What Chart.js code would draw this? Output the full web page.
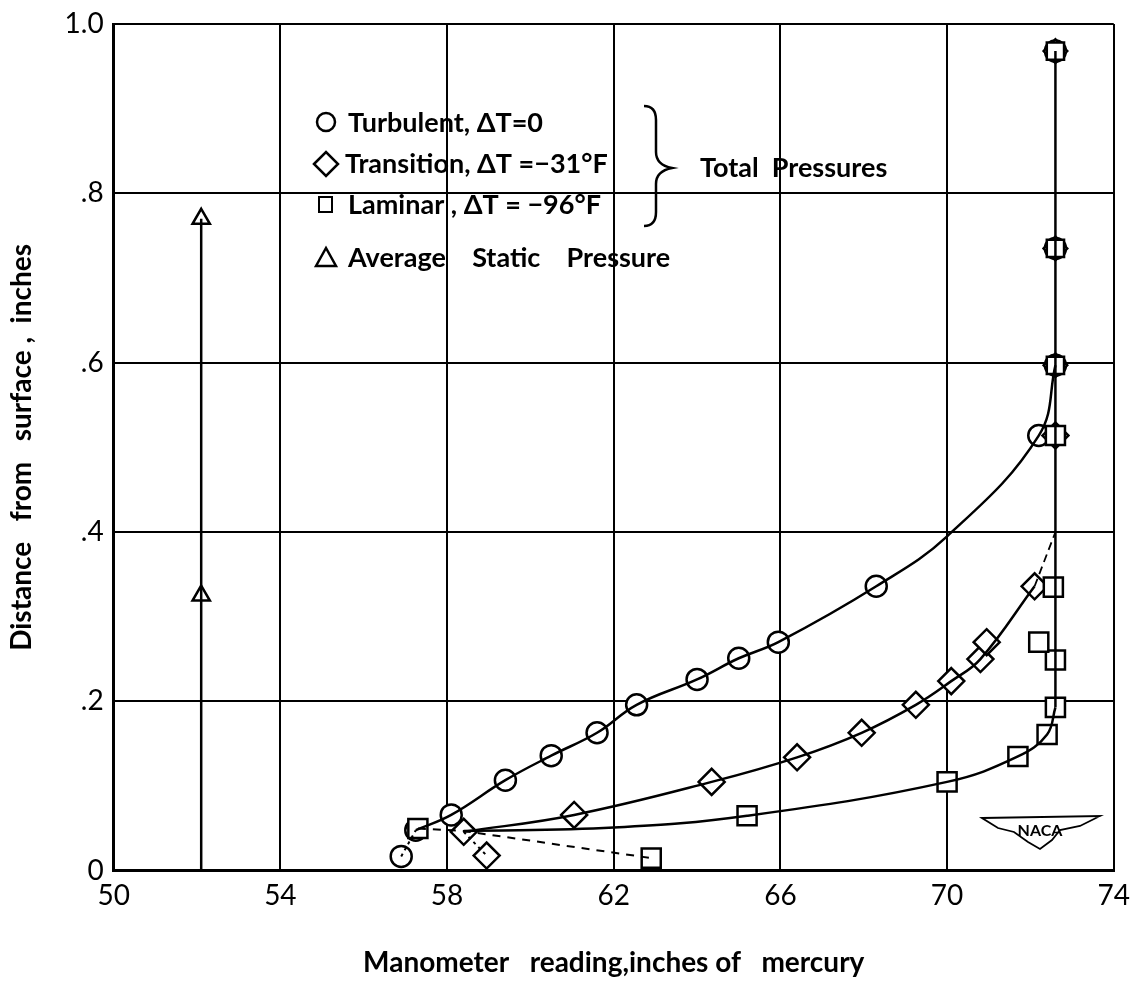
<!DOCTYPE html>
<html>
<head>
<meta charset="utf-8">
<script src="https://cdn.jsdelivr.net/npm/chart.js@4/dist/chart.umd.min.js"></script>
<style>
  html, body { margin: 0; padding: 0; background: #fff; }
  #chart { display: block; }
</style>
</head>
<body>
<canvas id="chart" width="1138" height="983"></canvas>
<script>
// --- DATA ---
const xTicks = [50, 54, 58, 62, 66, 70, 74];
const yTicks = [0, 0.2, 0.4, 0.6, 0.8, 1.0];

// Turbulent, dT = 0 (circles)
const turbX = [56.9, 57.25, 58.1, 59.4, 60.5, 61.6, 62.55, 64.0, 65.0, 65.95, 68.3, 72.2, 72.6, 72.6, 72.6];
const turbY = [0.017, 0.048, 0.066, 0.107, 0.136, 0.163, 0.196, 0.226, 0.251, 0.270, 0.336, 0.514, 0.597, 0.735, 0.968];

// Transition, dT = -31 F (diamonds)
const transX = [58.4, 58.95, 61.05, 64.35, 66.4, 67.95, 69.25, 70.1, 70.8, 70.95, 72.1, 72.6, 72.6, 72.6, 72.6];
const transY = [0.046, 0.018, 0.066, 0.105, 0.134, 0.163, 0.196, 0.224, 0.250, 0.270, 0.336, 0.514, 0.597, 0.735, 0.968];

// Laminar, dT = -96 F (squares)
const lamX = [57.3, 62.9, 65.2, 70.0, 71.7, 72.4, 72.6, 72.6, 72.2, 72.55, 72.6, 72.6, 72.6, 72.6];
const lamY = [0.050, 0.015, 0.065, 0.105, 0.135, 0.161, 0.193, 0.249, 0.270, 0.335, 0.514, 0.597, 0.735, 0.968];

// Average static pressure (triangles)
const statX = [52.1, 52.1];
const statY = [0.770, 0.325];

// Faired curves drawn through the points
const turbCurveX = [57.25, 58.1, 59.4, 60.5, 61.6, 62.55, 64.0, 65.0, 65.95, 68.3, 70.0, 72.2, 72.6];
const turbCurveY = [0.048, 0.066, 0.107, 0.136, 0.163, 0.196, 0.226, 0.251, 0.270, 0.336, 0.395, 0.514, 0.597];
const transCurveX = [58.4, 61.05, 64.35, 66.4, 67.95, 69.25, 70.1, 70.8, 72.1];
const transCurveY = [0.046, 0.066, 0.105, 0.134, 0.163, 0.196, 0.224, 0.250, 0.336];
const transDashX = [72.1, 72.6];
const transDashY = [0.336, 0.400];
const lamCurveX = [58.4, 62.0, 65.2, 70.0, 71.7, 72.4, 72.6];
const lamCurveY = [0.047, 0.051, 0.065, 0.105, 0.135, 0.161, 0.193];
const wallX = [72.6, 72.6];
const wallY = [0.193, 0.968];
const turbTailX = [56.9, 57.25];
const turbTailY = [0.017, 0.048];
const transTailX = [58.4, 58.95];
const transTailY = [0.046, 0.018];
const lamTailX = [57.3, 58.4, 62.9];
const lamTailY = [0.050, 0.047, 0.015];
const statLineX = [52.1, 52.1];
const statLineY = [0, 0.770];

const pts = (xs, ys) => xs.map((x, i) => ({ x: x, y: ys[i] }));

const lineSet = (xs, ys, opts) => Object.assign({
    data: pts(xs, ys),
    showLine: true,
    pointRadius: 0,
    borderColor: '#000',
    borderWidth: 2.5,
    tension: 0,
    fill: false
}, opts || {});

// where several symbols sit on one spot (top of the wall line) the
// square and diamond only peek out from behind the circle
const stacked = (ctx) => {
    const p = ctx.raw;
    return p && p.x === 72.6 && p.y > 0.55;
};

const markerSet = (xs, ys, style, radius, small) => ({
    data: pts(xs, ys),
    showLine: false,
    pointStyle: style,
    pointRadius: small ? (ctx => stacked(ctx) ? small : radius) : radius,
    pointBorderWidth: 2.5,
    pointBorderColor: '#000',
    pointBackgroundColor: '#fff'
});

const FONT = 'Lato, "DejaVu Sans", sans-serif';

// --- Legend, brace and NACA mark ---
const decorPlugin = {
    id: 'decor',
    afterDatasetsDraw(chart) {
        const ctx = chart.ctx;
        ctx.save();
        ctx.strokeStyle = '#000';
        ctx.fillStyle = '#000';
        ctx.lineWidth = 2.5;

        const mx = 326;
        // circle
        ctx.beginPath(); ctx.arc(mx, 122, 9, 0, Math.PI * 2); ctx.stroke();
        // diamond
        ctx.beginPath();
        ctx.moveTo(mx - 12, 164); ctx.lineTo(mx, 152); ctx.lineTo(mx + 12, 164); ctx.lineTo(mx, 176); ctx.closePath();
        ctx.stroke();
        // square
        ctx.lineWidth = 2;
        ctx.strokeRect(mx - 7, 197, 13, 15);
        // triangle
        ctx.lineWidth = 2.5;
        ctx.beginPath();
        ctx.moveTo(mx - 10, 266); ctx.lineTo(mx, 248); ctx.lineTo(mx + 10, 266); ctx.closePath();
        ctx.stroke();

        ctx.font = 'bold 27px ' + FONT;
        ctx.textBaseline = 'middle';
        ctx.textAlign = 'left';
        ctx.fillText('Turbulent, \u0394T=0', 348, 123);
        ctx.fillText('Transition, \u0394T =\u221231\u00B0F', 345, 164);
        ctx.fillText('Laminar , \u0394T = \u221296\u00B0F', 348, 205);
        ctx.fillText('Average    Static    Pressure', 348, 258);
        ctx.fillText('Total  Pressures', 700, 168);

        // brace
        ctx.lineWidth = 2.5;
        ctx.beginPath();
        ctx.moveTo(644, 106);
        ctx.quadraticCurveTo(656, 106, 656, 120);
        ctx.lineTo(656, 152);
        ctx.quadraticCurveTo(656, 165, 672, 168);
        ctx.quadraticCurveTo(656, 171, 656, 184);
        ctx.lineTo(656, 212);
        ctx.quadraticCurveTo(656, 226, 644, 226);
        ctx.stroke();

        // NACA wing mark
        ctx.lineWidth = 1.8;
        ctx.beginPath();
        ctx.moveTo(982, 818);
        ctx.lineTo(1100, 816);
        ctx.lineTo(1080, 826);
        ctx.lineTo(1060, 830);
        ctx.lineTo(1052, 840);
        ctx.lineTo(1040, 849);
        ctx.lineTo(1028, 842);
        ctx.lineTo(1014, 832);
        ctx.lineTo(998, 828);
        ctx.closePath();
        ctx.stroke();
        ctx.font = 'bold 16px ' + FONT;
        ctx.textAlign = 'center';
        ctx.fillText('NACA', 1040, 831);
        ctx.restore();
    }
};

new Chart(document.getElementById('chart'), {
    type: 'scatter',
    data: {
        datasets: [
            lineSet(statLineX, statLineY),
            lineSet(turbCurveX, turbCurveY, { tension: 0.4 }),
            lineSet(transCurveX, transCurveY, { tension: 0.4 }),
            lineSet(lamCurveX, lamCurveY, { tension: 0.4 }),
            lineSet(wallX, wallY),
            lineSet(transDashX, transDashY, { borderDash: [8, 5], borderWidth: 1.8 }),
            lineSet(turbTailX, turbTailY, { borderDash: [3, 4], borderWidth: 2 }),
            lineSet(transTailX, transTailY, { borderDash: [3, 4], borderWidth: 2 }),
            lineSet(lamTailX, lamTailY, { borderDash: [8, 7], borderWidth: 2 }),
            markerSet(statX, statY, 'triangle', 10),
            markerSet(lamX, lamY, 'rect', 13.5, 12.2),
            markerSet(transX, transY, 'rectRot', 13, 11.8),
            markerSet(turbX, turbY, 'circle', 10.5)
        ]
    },
    options: {
        responsive: false,
        animation: false,
        layout: { padding: { left: 5, right: 14, top: 3, bottom: 3 } },
        plugins: {
            legend: { display: false },
            tooltip: { enabled: false }
        },
        scales: {
            x: {
                type: 'linear',
                min: 50, max: 74,
                afterBuildTicks: (axis) => { axis.ticks = xTicks.map(v => ({ value: v })); },
                grid: { color: '#000', lineWidth: 2, tickLength: 0, drawTicks: false },
                border: { color: '#000', width: 3 },
                ticks: {
                    color: '#000',
                    padding: 8,
                    font: { family: FONT, size: 28 }
                },
                title: {
                    display: true,
                    text: 'Manometer   reading,inches of   mercury',
                    color: '#000',
                    font: { family: FONT, size: 28, weight: 'bold' },
                    padding: { top: 26, bottom: 0 }
                }
            },
            y: {
                type: 'linear',
                min: 0, max: 1,
                afterBuildTicks: (axis) => { axis.ticks = yTicks.map(v => ({ value: v })); },
                grid: { color: '#000', lineWidth: 2, tickLength: 0, drawTicks: false },
                border: { color: '#000', width: 3 },
                ticks: {
                    color: '#000',
                    padding: 10,
                    font: { family: FONT, size: 28, lineHeight: 1 },
                    callback: (v) => v === 0 ? '0' : (v === 1 ? '1.0' : ('.' + Math.round(v * 10)))
                },
                title: {
                    display: true,
                    text: 'Distance   from   surface ,  inches',
                    color: '#000',
                    font: { family: FONT, size: 28, weight: 'bold' },
                    padding: { top: 0, bottom: 16 }
                }
            }
        }
    },
    plugins: [decorPlugin]
});
</script>
</body>
</html>
